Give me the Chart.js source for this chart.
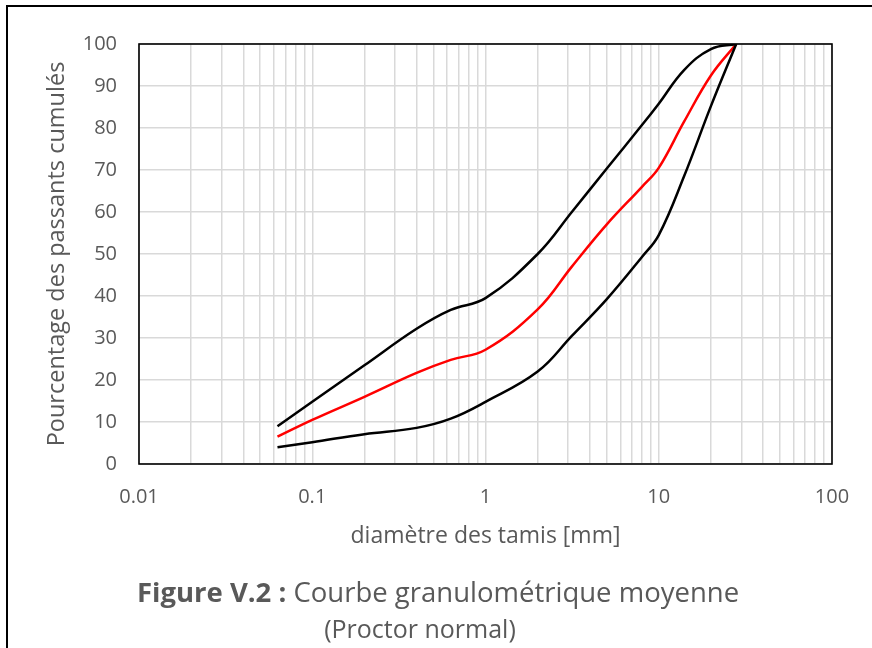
<!DOCTYPE html>
<html lang="fr">
<head>
<meta charset="utf-8">
<title>Courbe granulométrique moyenne</title>
<script src="https://cdn.jsdelivr.net/npm/chart.js@4.4.1/dist/chart.umd.min.js"></script>
<style>
  html, body { margin: 0; padding: 0; background: #fff; }
  body { width: 872px; height: 648px; position: relative; overflow: hidden; font-family: "Open Sans", sans-serif; }
  #cadre { position: absolute; left: 6px; top: 5px; width: 900px; height: 700px; border-left: 2px solid #000; border-top: 2px solid #000; }
  #graph { position: absolute; left: 0; top: 0; }
  .legende { position: absolute; color: #595959; white-space: nowrap; text-align: center; line-height: 1.36; }
</style>
</head>
<body>
<div id="cadre"></div>
<canvas id="graph" width="872" height="648"></canvas>
<div class="legende" style="left:0;width:876px;top:573px;font-size:27.5px"><b>Figure V.2 :</b> Courbe granulométrique moyenne</div>
<div class="legende" style="left:0;width:840px;top:611px;font-size:25px">(Proctor normal)</div>

<script>
// ouvertures des tamis (mm)
const tamis = [0.063, 0.1, 0.2, 0.4, 0.63, 1, 2, 3.15, 5, 8, 10, 14, 20, 28];

// passants cumulés (%)
const fuseauSup = [9, 14.8, 23.5, 32.2, 36.7, 39.5, 50, 60, 70.3, 80.7, 85.8, 93.8, 98.8, 100];
const courbeMoy = [6.5, 10.5, 16, 21.7, 24.8, 27.2, 36.8, 47, 57, 66, 70.5, 81.5, 92.5, 100];
const fuseauInf = [4, 5.2, 7.1, 8.6, 10.8, 14.8, 22, 30.5, 39.2, 49.3, 54.5, 68.5, 85.2, 100];

// graduations des axes
const decades = [0.01, 0.1, 1, 10, 100];
const yTicks = [0, 10, 20, 30, 40, 50, 60, 70, 80, 90, 100];

const gris = '#595959';

function points(vals) {
    return tamis.map((t, i) => ({ x: t, y: vals[i] }));
}

function serie(vals, couleur) {
    return {
        data: points(vals),
        borderColor: couleur,
        backgroundColor: couleur,
        borderWidth: 2.5,
        pointRadius: 0,
        tension: 0.4,
        fill: false,
    };
}

// cadre noir autour de la zone de tracé
const cadrePlot = {
    id: 'cadrePlot',
    beforeDatasetsDraw(chart) {
        const { ctx, chartArea: a } = chart;
        ctx.save();
        ctx.strokeStyle = '#000';
        ctx.lineWidth = 1.6;
        ctx.strokeRect(a.left, a.top, a.right - a.left, a.bottom - a.top);
        ctx.restore();
    }
};

new Chart(document.getElementById('graph'), {
    type: 'line',
    data: {
        datasets: [
            serie(fuseauSup, '#000000'),
            serie(fuseauInf, '#000000'),
            serie(courbeMoy, '#ff0000'),
        ]
    },
    options: {
        responsive: false,
        animation: false,
        events: [],
        layout: { padding: { top: 44, right: 40, bottom: 94, left: 0 } },
        plugins: {
            legend: { display: false },
            tooltip: { enabled: false },
        },
        scales: {
            x: {
                type: 'logarithmic',
                min: 0.01,
                max: 100,
                afterBuildTicks(scale) {
                    const t = [];
                    decades.forEach((d, i) => {
                        if (i === decades.length - 1) { t.push({ value: d }); return; }
                        for (let k = 1; k < 10; k++) t.push({ value: d * k });
                    });
                    scale.ticks = t;
                },
                afterFit(scale) { scale.height = 90; },
                grid: { color: '#d9d9d9', lineWidth: 1.5, drawTicks: false },
                border: { display: false },
                ticks: {
                    autoSkip: false,
                    maxRotation: 0,
                    padding: 21,
                    color: gris,
                    font: { family: 'Open Sans', size: 20 },
                    callback: (v) => decades.includes(v) ? String(v) : '',
                },
                title: {
                    display: true,
                    text: 'diamètre des tamis [mm]',
                    color: gris,
                    font: { family: 'Open Sans', size: 23 },
                    padding: { top: 0, bottom: 4 },
                },
            },
            y: {
                min: 0,
                max: 100,
                afterBuildTicks(scale) {
                    scale.ticks = yTicks.map(v => ({ value: v }));
                },
                afterFit(scale) { scale.width = 139; },
                grid: { color: '#d9d9d9', lineWidth: 1.5, drawTicks: false },
                border: { display: false },
                ticks: {
                    padding: 22,
                    color: gris,
                    font: { family: 'Open Sans', size: 20 },
                },
                title: {
                    display: true,
                    text: 'Pourcentage des passants cumulés',
                    color: gris,
                    font: { family: 'Open Sans', size: 23.5 },
                    padding: { top: 43, bottom: 0 },
                },
            },
        },
    },
    plugins: [cadrePlot],
});
</script>
</body>
</html>
